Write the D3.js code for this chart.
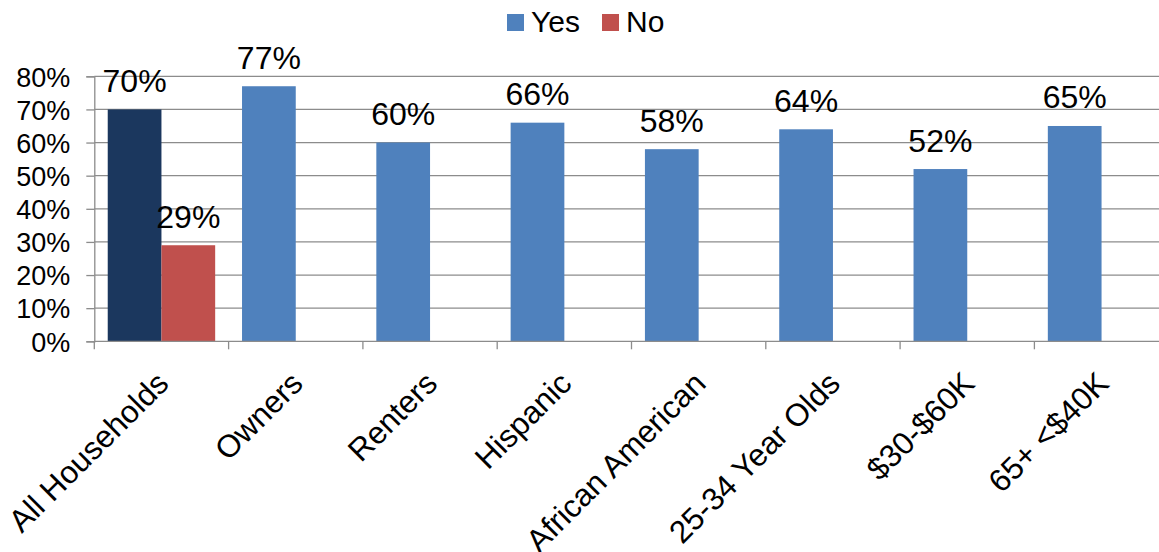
<!DOCTYPE html>
<html><head><meta charset="utf-8">
<script src="https://cdn.jsdelivr.net/npm/d3@7"></script>
<style>
html,body{margin:0;padding:0;background:#fff;}
svg{display:block;font-family:"Liberation Sans",Arial,Helvetica,sans-serif;}
</style></head>
<body>
<svg id="chart" width="1159" height="552"></svg>
<script>
const categories = ["All Households","Owners","Renters","Hispanic","African American","25-34 Year Olds","$30-$60K","65+ <$40K"];
const yesValues = [70,77,60,66,58,64,52,65];
const noValues = [29,null,null,null,null,null,null,null];
const seriesNames = ["Yes","No"];
const yTicks = [0,10,20,30,40,50,60,70,80];

(function(){
const W = 1159, H = 552;
const mLeft = 94.3, mRight = 1168.7, mTop = 76.3, mBottom = 341.3;
const svg = d3.select("#chart");
const gridColor = "#8c8c8c";
const colYes = "#4f81bd", colNo = "#c0504d", colHighlight = "#1b375e";

const x = d3.scaleBand().domain(categories).range([mLeft, mRight]).paddingInner(0).paddingOuter(0);
const xInner = d3.scaleBand().domain(seriesNames).range([0, x.bandwidth()]).paddingInner(0).paddingOuter(0.25);
const y = d3.scaleLinear().domain([0,80]).range([mBottom, mTop]);

// gridlines
svg.append("g").selectAll("line").data(yTicks.filter(d=>d>0)).join("line")
  .attr("x1", mLeft).attr("x2", W).attr("y1", d=>y(d)).attr("y2", d=>y(d))
  .attr("stroke", gridColor).attr("stroke-width", 1.3);

// y axis
const yAxis = svg.append("g").attr("transform", `translate(${mLeft},0)`)
  .call(d3.axisLeft(y).tickValues(yTicks).tickFormat(d=>d+"%").tickSize(8).tickPadding(16));
yAxis.select(".domain").attr("stroke", gridColor).attr("stroke-width",1.3);
yAxis.selectAll(".tick line").attr("stroke", gridColor).attr("stroke-width",1.3);
yAxis.selectAll(".tick text").attr("font-size", 27).attr("fill","#000").attr("dy","0.36em")
  .attr("font-family","Liberation Sans, Arial, sans-serif");

// bars
const data = categories.map((c,i)=>({c, i, vals:[{s:"Yes",v:yesValues[i]},{s:"No",v:noValues[i]}]}));
const groups = svg.append("g").selectAll("g").data(data).join("g")
  .attr("transform", d=>`translate(${x(d.c)},0)`);
groups.selectAll("rect").data(d=>d.vals.filter(e=>e.v!=null).map(e=>({...e, i:d.i}))).join("rect")
  .attr("x", d=>xInner(d.s)).attr("width", xInner.bandwidth())
  .attr("y", d=>y(d.v)).attr("height", d=>mBottom - y(d.v))
  .attr("fill", d=> d.s==="No" ? colNo : (d.i===0 ? colHighlight : colYes));
groups.selectAll("text.val").data(d=>d.vals.filter(e=>e.v!=null)).join("text")
  .attr("class","val")
  .attr("x", d=>xInner(d.s)+xInner.bandwidth()/2)
  .attr("y", d=>y(d.v)-17.5)
  .attr("text-anchor","middle").attr("font-size",32).attr("fill","#000")
  .text(d=>d.v+"%");

// x axis
const xAxisG = svg.append("g");
xAxisG.append("line").attr("x1", mLeft).attr("x2", W).attr("y1", mBottom).attr("y2", mBottom)
  .attr("stroke", gridColor).attr("stroke-width",1.3);
xAxisG.selectAll("line.tk").data(categories).join("line").attr("class","tk")
  .attr("x1", d=>x(d)).attr("x2", d=>x(d)).attr("y1", mBottom).attr("y2", mBottom+8)
  .attr("stroke", gridColor).attr("stroke-width",1.3);
xAxisG.selectAll("text").data(categories).join("text")
  .attr("transform", d=>`translate(${x(d)+x.bandwidth()/2+9},${mBottom+44}) rotate(-45)`)
  .attr("text-anchor","end").attr("font-size",31.5).attr("fill","#000")
  .text(d=>d);

// legend
const legend = svg.append("g");
const legendItems = [{s:"Yes", c:colYes, x:507},{s:"No", c:colNo, x:602}];
legend.selectAll("rect").data(legendItems).join("rect")
  .attr("x", d=>d.x).attr("y", 14).attr("width", 17).attr("height", 17).attr("fill", d=>d.c);
legend.selectAll("text").data(legendItems).join("text")
  .attr("x", d=>d.x+24).attr("y", 32).attr("font-size", 30).attr("fill","#000").text(d=>d.s);
})();
</script>
</body></html>
